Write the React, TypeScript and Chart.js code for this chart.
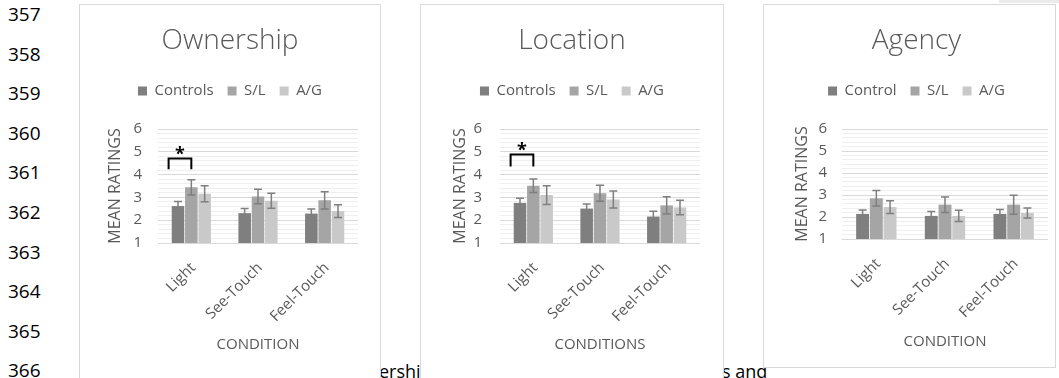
import React, { useEffect, useRef } from 'react';
import { Chart, registerables } from 'chart.js';

Chart.register(...registerables);

// ---------- data ----------
const categories = ['Light', 'See-Touch', 'Feel-Touch'];
const seriesLabels = ['Controls', 'S/L', 'A/G'];
const agencySeriesLabels = ['Control', 'S/L', 'A/G'];
const yTickLabels = [1, 2, 3, 4, 5, 6];

const ownershipControls = [2.62, 2.31, 2.29];
const ownershipSL = [3.44, 3.04, 2.87];
const ownershipAG = [3.16, 2.85, 2.4];
const ownershipControlsErr = [0.2, 0.2, 0.2];
const ownershipSLErr = [0.33, 0.32, 0.38];
const ownershipAGErr = [0.35, 0.33, 0.28];

const locationControls = [2.76, 2.51, 2.16];
const locationSL = [3.51, 3.18, 2.65];
const locationAG = [3.1, 2.91, 2.56];
const locationControlsErr = [0.2, 0.2, 0.23];
const locationSLErr = [0.3, 0.35, 0.38];
const locationAGErr = [0.41, 0.37, 0.32];

const agencyControls = [2.14, 2.05, 2.14];
const agencySL = [2.85, 2.56, 2.56];
const agencyAG = [2.45, 2.05, 2.18];
const agencyControlsErr = [0.18, 0.2, 0.2];
const agencySLErr = [0.35, 0.35, 0.43];
const agencyAGErr = [0.29, 0.26, 0.23];

// significance bracket: [leg bottom, bracket top, asterisk]
const ownershipBracket = [4.23, 4.71, 5.03];
const locationBracket = [4.36, 4.88, 5.21];

const lineNumbers = ['357', '358', '359', '360', '361', '362', '363', '364', '365', '366'];
const barColors = ['#7f7f7f', '#a5a5a5', '#c9c9c9'];

// ---------- styling ----------
const FONT = "'Open Sans', 'DejaVu Sans', sans-serif";
const TEXT = '#595959';

type Panel = {
  title: string;
  xTitle: string;
  labels: string[];
  values: number[][];
  errors: number[][];
  bracket: number[] | null;
  box: { left: number; top: number; width: number; height: number };
  canvas: { width: number; height: number };
  plot: { left: number; right: number; top: number; bottom: number };
  padLeft: number;
  yTitleX: number;
  tickGap: number;
  xTitleY: number;
};

const panels: Panel[] = [
  {
    title: 'Ownership',
    xTitle: 'CONDITION',
    labels: seriesLabels,
    values: [ownershipControls, ownershipSL, ownershipAG],
    errors: [ownershipControlsErr, ownershipSLErr, ownershipAGErr],
    bracket: ownershipBracket,
    box: { left: 79, top: 4, width: 302, height: 400 },
    canvas: { width: 300, height: 373 },
    plot: { left: 78, right: 278, top: 124, bottom: 238 },
    padLeft: 0,
    yTitleX: 35,
    tickGap: 16,
    xTitleY: 340,
  },
  {
    title: 'Location',
    xTitle: 'CONDITIONS',
    labels: seriesLabels,
    values: [locationControls, locationSL, locationAG],
    errors: [locationControlsErr, locationSLErr, locationAGErr],
    bracket: locationBracket,
    box: { left: 420, top: 4, width: 304, height: 400 },
    canvas: { width: 302, height: 373 },
    plot: { left: 79, right: 279, top: 124, bottom: 238 },
    padLeft: 0,
    yTitleX: 39,
    tickGap: 18,
    xTitleY: 340,
  },
  {
    title: 'Agency',
    xTitle: 'CONDITION',
    labels: agencySeriesLabels,
    values: [agencyControls, agencySL, agencyAG],
    errors: [agencyControlsErr, agencySLErr, agencyAGErr],
    bracket: null,
    box: { left: 763, top: 4, width: 293, height: 364 },
    canvas: { width: 291, height: 362 },
    plot: { left: 78, right: 284, top: 124, bottom: 234 },
    padLeft: 14,
    yTitleX: 38,
    tickGap: 15,
    xTitleY: 337,
  },
];

const isInt = (v: number) => Math.abs(v - Math.round(v)) < 1e-6;

function ChartPanel({ p }: { p: Panel }) {
  const ref = useRef<HTMLCanvasElement>(null);
  useEffect(() => {
    const titleSize = 28;
    const titleLH = titleSize * 1.2;
    const titleCenter = 36;
    const legendSize = 15;
    const legendPad = 14;
    const legendCenter = 86;
    const titlePadTop = titleCenter - titleLH / 2;
    const legendTop = legendCenter - legendPad - legendSize / 2;
    const titlePadBottom = legendTop - (titlePadTop + titleLH);
    const legendBottom = legendTop + legendSize + legendPad + 10;
    const gap = p.plot.top - legendBottom;
    const xTitleSize = 15;
    const xTitlePadBottom = p.canvas.height - xTitleSize * 0.6 - p.xTitleY;
    const yTitleSize = 16;

    const errorBars = {
      id: 'errorBars',
      afterDatasetsDraw(chart: any) {
        const { ctx } = chart;
        const y = chart.scales.y;
        ctx.save();
        ctx.strokeStyle = '#7f7f7f';
        ctx.lineWidth = 1.5;
        chart.data.datasets.forEach((ds: any, i: number) => {
          const meta = chart.getDatasetMeta(i);
          meta.data.forEach((el: any, j: number) => {
            const v = ds.data[j] as number;
            const e = p.errors[i][j];
            const yt = y.getPixelForValue(v + e);
            const yb = y.getPixelForValue(v - e);
            const x = el.x;
            ctx.beginPath();
            ctx.moveTo(x, yt);
            ctx.lineTo(x, yb);
            ctx.moveTo(x - 4, yt);
            ctx.lineTo(x + 4, yt);
            ctx.moveTo(x - 4, yb);
            ctx.lineTo(x + 4, yb);
            ctx.stroke();
          });
        });
        ctx.restore();
      },
    };

    const bracket = {
      id: 'sigBracket',
      afterDatasetsDraw(chart: any) {
        if (!p.bracket) return;
        const { ctx } = chart;
        const y = chart.scales.y;
        const a: any = chart.getDatasetMeta(0).data[0];
        const b: any = chart.getDatasetMeta(1).data[0];
        const left = a.x - a.width * 0.75;
        const right = b.x;
        const yLeg = y.getPixelForValue(p.bracket[0]);
        const yTop = y.getPixelForValue(p.bracket[1]);
        const yStar = y.getPixelForValue(p.bracket[2]);
        ctx.save();
        ctx.strokeStyle = '#000';
        ctx.lineWidth = 2;
        ctx.beginPath();
        ctx.moveTo(left, yLeg);
        ctx.lineTo(left, yTop);
        ctx.lineTo(right, yTop);
        ctx.lineTo(right, yLeg);
        ctx.stroke();
        ctx.fillStyle = '#000';
        ctx.font = `bold 18px ${FONT}`;
        ctx.textAlign = 'center';
        ctx.textBaseline = 'middle';
        ctx.fillText('*', (left + right) / 2, yStar + 4);
        ctx.restore();
      },
    };

    const chart = new Chart(ref.current!, {
      type: 'bar',
      data: {
        labels: categories,
        datasets: p.values.map((vals, i) => ({
          label: p.labels[i],
          data: vals,
          xAxisID: 'x',
          yAxisID: 'y',
          backgroundColor: barColors[i],
          borderWidth: 0,
          categoryPercentage: 0.6,
          barPercentage: 0.94,
        })),
      },
      options: {
        animation: false,
        responsive: false,
        maintainAspectRatio: false,
        layout: { padding: { top: 0, bottom: 0, left: p.padLeft, right: 0 } },
        plugins: {
          title: {
            display: true,
            text: p.title,
            color: TEXT,
            font: { family: FONT, size: titleSize, weight: '300' as any, lineHeight: 1.2 },
            padding: { top: titlePadTop, bottom: titlePadBottom },
          },
          legend: {
            display: true,
            labels: {
              color: TEXT,
              font: { family: FONT, size: legendSize },
              boxWidth: 9,
              boxHeight: 9,
              padding: legendPad,
            },
          },
          tooltip: { enabled: false },
        },
        scales: {
          x: {
            grid: { display: false },
            border: { display: false },
            ticks: {
              color: TEXT,
              font: { family: FONT, size: 15 },
              minRotation: 45,
              maxRotation: 45,
              padding: 8,
              labelOffset: 2,
            },
            title: {
              display: true,
              text: p.xTitle,
              color: TEXT,
              font: { family: FONT, size: xTitleSize, lineHeight: 1.2 },
              padding: { top: 0, bottom: xTitlePadBottom },
            },
            afterFit: (s: any) => {
              s.height = p.canvas.height - p.plot.bottom;
            },
          },
          y: {
            min: 1,
            max: 6,
            border: { display: false },
            grid: {
              drawTicks: false,
              color: (c: any) => (isInt(c.tick.value) ? '#d9d9d9' : '#efefef'),
              lineWidth: 1,
            },
            ticks: {
              stepSize: 0.2,
              autoSkip: false,
              padding: p.tickGap,
              color: TEXT,
              font: { family: FONT, size: 15 },
              callback: (v: any) => {
                const n = Number(v);
                return isInt(n) && yTickLabels.includes(Math.round(n)) ? String(Math.round(n)) : '';
              },
            },
            title: {
              display: true,
              text: 'MEAN RATINGS',
              color: TEXT,
              font: { family: FONT, size: yTitleSize, lineHeight: 1.2 },
              padding: { top: p.yTitleX - p.padLeft - yTitleSize * 0.6, bottom: 0 },
            },
            afterFit: (s: any) => {
              s.width = p.plot.left - p.padLeft;
            },
          },
          gapTop: {
            type: 'linear',
            axis: 'x',
            position: 'top',
            display: true,
            grid: { display: false },
            border: { display: false },
            ticks: { display: false },
            afterFit: (s: any) => {
              s.height = gap;
            },
          } as any,
          gapRight: {
            type: 'linear',
            axis: 'y',
            position: 'right',
            display: true,
            grid: { display: false },
            border: { display: false },
            ticks: { display: false },
            afterFit: (s: any) => {
              s.width = p.canvas.width - p.plot.right;
            },
          } as any,
        },
      },
      plugins: [errorBars, bracket],
    });
    return () => chart.destroy();
  }, []);

  return (
    <div
      style={{
        position: 'absolute',
        left: p.box.left,
        top: p.box.top,
        width: p.box.width,
        height: p.box.height,
        border: '1px solid #d9d9d9',
        boxSizing: 'border-box',
        background: '#fff',
      }}
    >
      <canvas
        ref={ref}
        width={p.canvas.width}
        height={p.canvas.height}
        style={{ display: 'block', width: p.canvas.width, height: p.canvas.height }}
      />
    </div>
  );
}

export default function App() {
  return (
    <div
      style={{
        position: 'absolute',
        left: 0,
        top: 0,
        width: 1059,
        height: 378,
        overflow: 'hidden',
        background: '#fff',
        fontFamily: FONT,
      }}
    >
      {lineNumbers.map((n, i) => (
        <div
          key={n}
          style={{
            position: 'absolute',
            left: 8,
            top: 14 + i * 39.6 - 13,
            fontSize: 19,
            lineHeight: '26px',
            color: '#000',
          }}
        >
          {n}
        </div>
      ))}
      <div style={{ position: 'absolute', left: 379, top: 358, fontSize: 18, lineHeight: '26px', color: '#000' }}>
        ership
      </div>
      <div style={{ position: 'absolute', left: 722, top: 358, fontSize: 18, lineHeight: '26px', color: '#000' }}>
        s and
      </div>
      <div style={{ position: 'absolute', left: 999, top: 0, width: 60, height: 3, background: '#ebebeb' }} />
      {panels.map((p) => (
        <ChartPanel key={p.title} p={p} />
      ))}
    </div>
  );
}
